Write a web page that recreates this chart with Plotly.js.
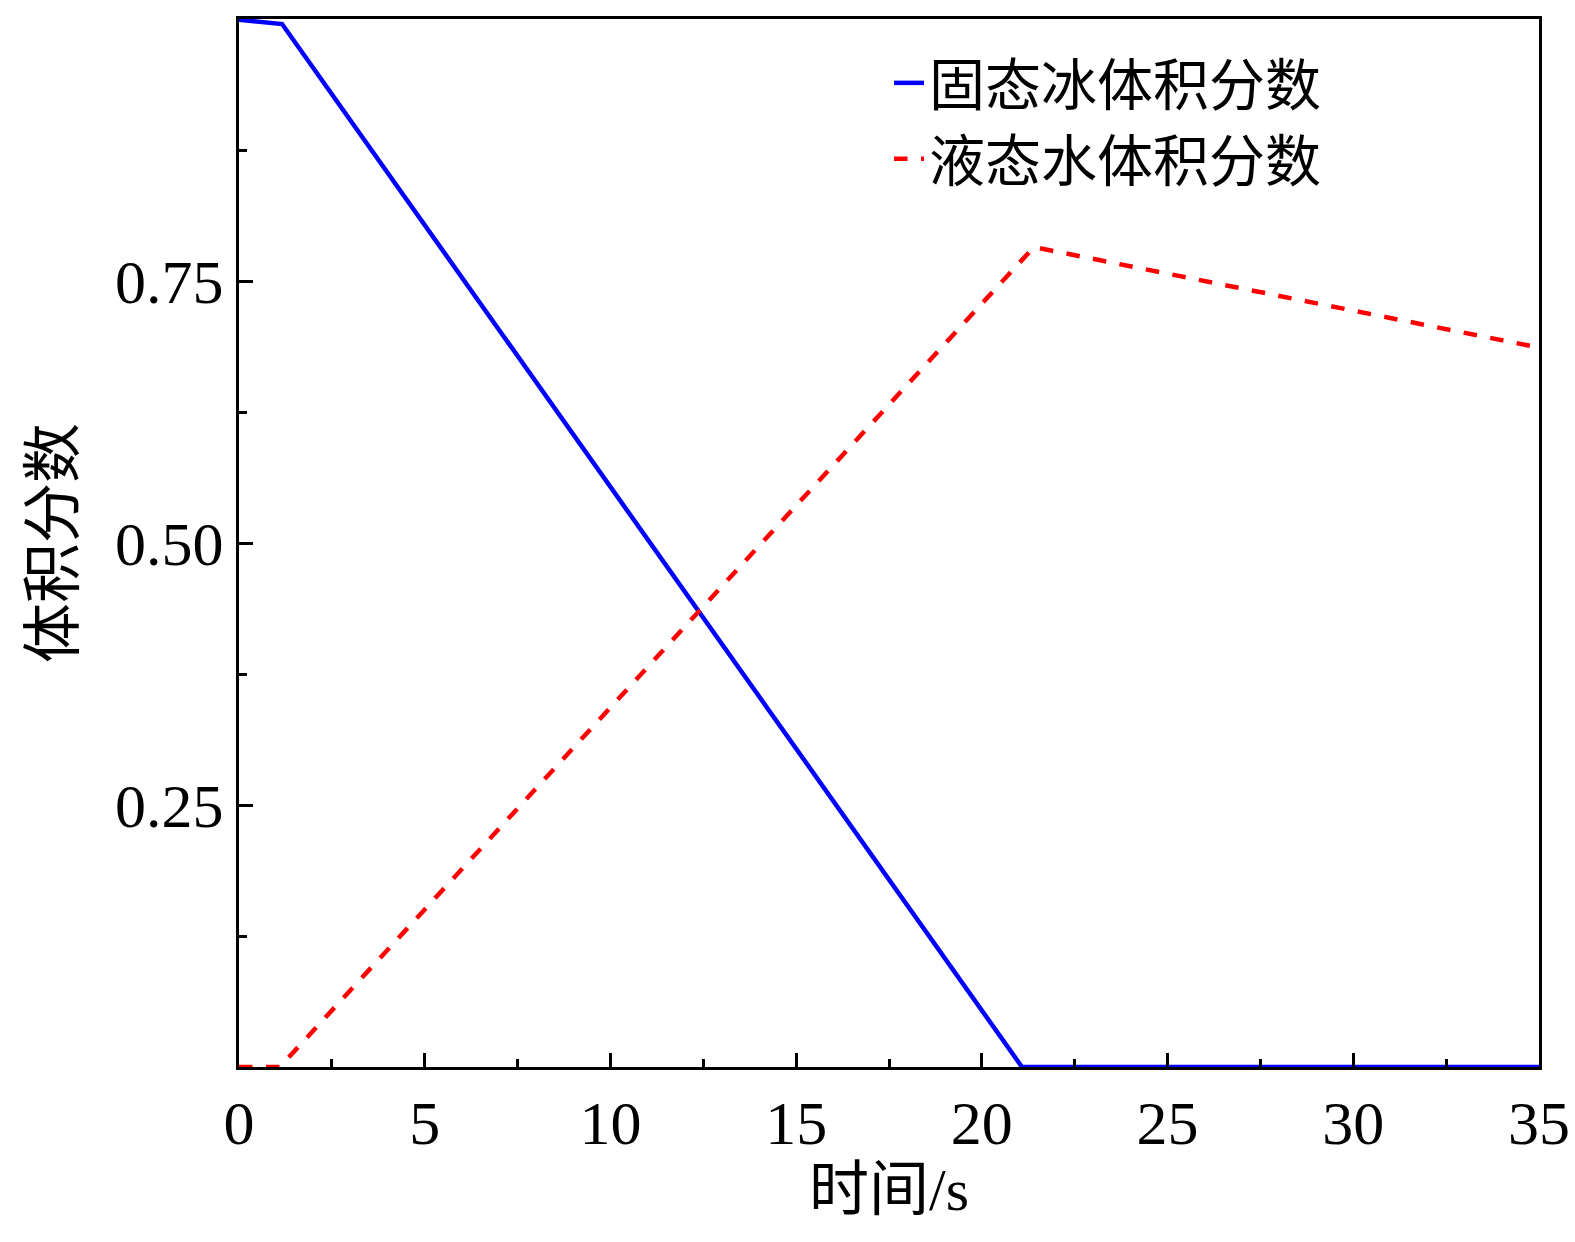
<!DOCTYPE html>
<html><head><meta charset="utf-8">
<script src="https://cdn.plot.ly/plotly-3.0.1.min.js"></script>
</head><body style="margin:0">
<div id="myGraph" style="width:1575px;height:1242px"></div>
<script>
const iceTime = [0, 1.16, 21.08, 35];
const iceFrac = [1.0, 0.996, 0.0, 0.0];
const waterTime = [0, 1.1, 21.4, 35];
const waterFrac = [0.0, 0.0, 0.783, 0.687];
const yTickVals = [0.25, 0.5, 0.75, 1.0];
const yTickText = ["0.25", "0.50", "0.75", "1.00"];

const serif = "Liberation Serif, Noto Sans CJK SC, serif";
const ice = {x: iceTime, y: iceFrac, name: "固态冰体积分数", type: "scatter", mode: "lines",
  line: {color: "#0000ff", width: 4.5}};
const water = {x: waterTime, y: waterFrac, name: "液态水体积分数", type: "scatter", mode: "lines",
  line: {color: "#ff0000", width: 4.5, dash: "dash"}};

const axisCommon = {showline: true, mirror: true, linecolor: "black", linewidth: 3,
  ticks: "inside", ticklen: 14, tickwidth: 3, tickcolor: "black", showgrid: false, zeroline: false,
  tickfont: {family: serif, size: 62, color: "black"}};

const layout = {
  width: 1575, height: 1242,
  margin: {l: 239, r: 36, t: 19, b: 175},
  paper_bgcolor: "white", plot_bgcolor: "white",
  font: {family: serif, color: "black"},
  showlegend: true,
  legend: {x: 0.5, y: 0.98, xanchor: "left", yanchor: "top", bgcolor: "rgba(0,0,0,0)",
    font: {family: "Noto Sans CJK SC", size: 56}, tracegroupgap: 0},
  xaxis: Object.assign({}, axisCommon, {range: [0, 35], tickvals: [0, 5, 10, 15, 20, 25, 30, 35],
    minor: {dtick: 2.5, ticks: "inside", ticklen: 8, tickwidth: 3, tickcolor: "black"},
    title: {text: "时间/s", font: {family: serif, size: 60}, standoff: 6}}),
  yaxis: Object.assign({}, axisCommon, {range: [0, 1.0008], tickvals: yTickVals, ticktext: yTickText,
    minor: {tickvals: [0.125, 0.375, 0.625, 0.875], ticks: "inside", ticklen: 8, tickwidth: 3, tickcolor: "black"},
    title: {text: "体积分数", font: {family: serif, size: 60}, standoff: 22}})
};
Plotly.newPlot("myGraph", [ice, water], layout, {displayModeBar: false});
</script>
</body></html>
